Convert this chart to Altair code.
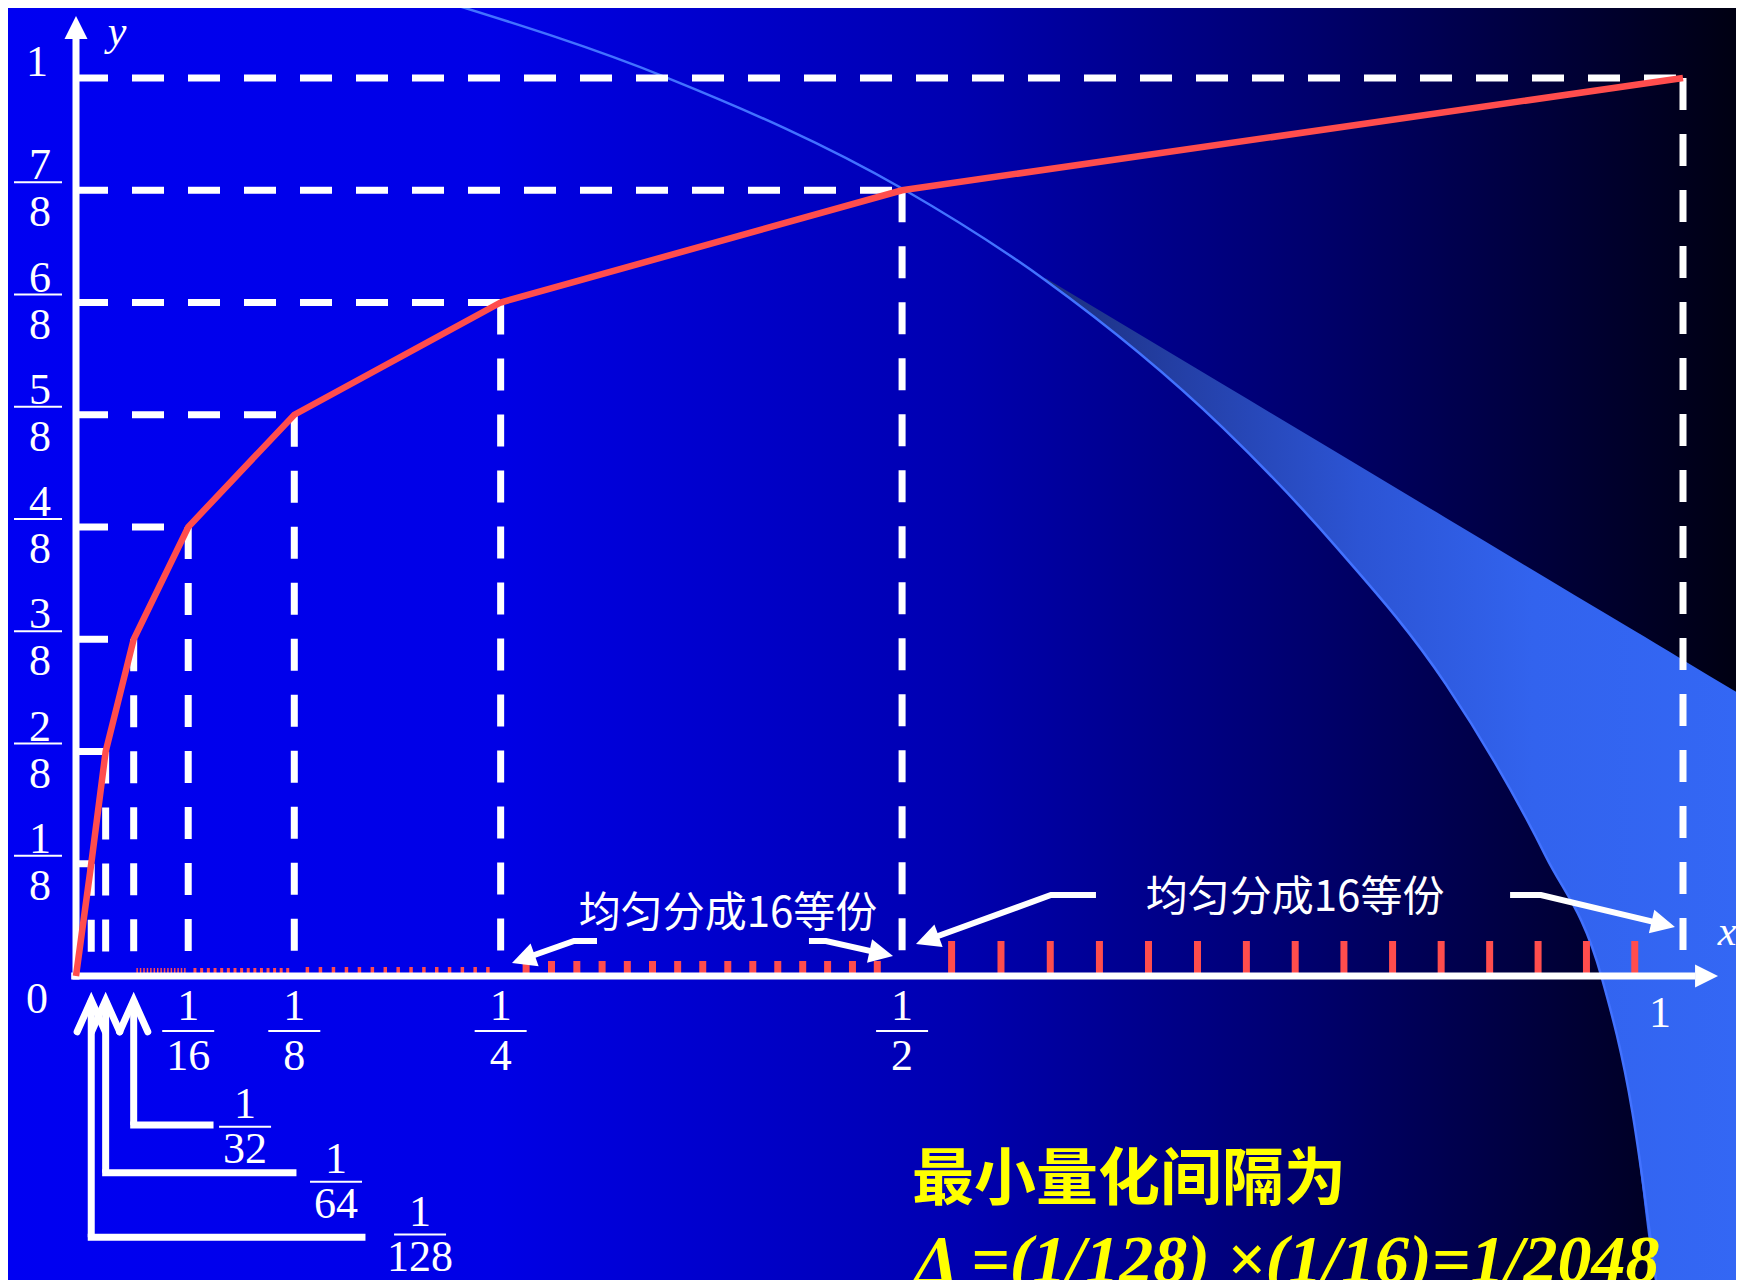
import math
import altair as alt
import pandas as pd

# ------------------------------------------------------------------
# values (A-law 13-segment compression curve)
# ------------------------------------------------------------------
break_x = [0, 1/128, 1/64, 1/32, 1/16, 1/8, 1/4, 1/2, 1]
break_y = [0, 1/8, 2/8, 3/8, 4/8, 5/8, 6/8, 7/8, 1]

x_frac_value = [1/16, 1/8, 1/4, 1/2]
x_frac_num = ["1", "1", "1", "1"]
x_frac_den = ["16", "8", "4", "2"]

y_frac_value = [1/8, 2/8, 3/8, 4/8, 5/8, 6/8, 7/8]
y_frac_num = ["1", "2", "3", "4", "5", "6", "7"]
y_frac_den = ["8", "8", "8", "8", "8", "8", "8"]

small_value = [1/32, 1/64, 1/128]
small_num = ["1", "1", "1"]
small_den = ["32", "64", "128"]

division_start = [1/32, 1/16, 1/8, 1/4, 1/2]
division_end = [1/16, 1/8, 1/4, 1/2, 1]
division_parts = 16

note_label = "均匀分成16等份"
result_label = "最小量化间隔为"
formula_label = "Δ =(1/128) ×(1/16)=1/2048"

# annotation geometry, in axis units (x as fraction of axis length)
callout_tip_y = -0.027
callout_level_y = [-0.166, -0.219, -0.291]
callout_end_x = [0.0752, 0.1242, 0.1656]
callout_label_t = [0.1052, 0.1618, 0.2141]
callout_label_y = [-0.168, -0.229, -0.288]

note_t = [0.4057, 0.7586]
note_y = [0.0690, 0.0869]

arrow_path_t = [[0.3242, 0.3099, 0.2782], [0.4561, 0.4667, 0.5009],
                [0.6347, 0.6067, 0.5296], [0.8924, 0.9116, 0.9876]]
arrow_path_y = [[0.0390, 0.0390, 0.0189], [0.0390, 0.0390, 0.0252],
                [0.0902, 0.0902, 0.0401], [0.0902, 0.0902, 0.0577]]
arrow_tip_t = [0.2713, 0.5084, 0.5227, 0.9950]
arrow_tip_y = [0.0145, 0.0223, 0.0356, 0.0546]

# background decoration (slide template arc and light wedge)
arc_t = [0.2260, 0.3679, 0.5146, 0.6032, 0.7139, 0.7831, 0.8523,
         0.9146, 0.9492, 0.9685, 0.9838]
arc_y = [1.0869, 1.0002, 0.8764, 0.7748, 0.6101, 0.4801, 0.3253,
         0.1334, -0.0003, -0.1514, -0.3471]
wedge_edge_t = [0.6033, 1.0380]
wedge_edge_y = [0.7773, 0.3112]

# ------------------------------------------------------------------
# layout / style
# ------------------------------------------------------------------
W, H = 1728, 1272
X0, X1 = 68, 1675
Y0, Y1 = 968, 70
PX_X = X1 - X0
PX_Y = Y0 - Y1
SERIF = "Liberation Serif"
CJK = "Noto Sans CJK SC"
RED = "#FF4D4D"
YELLOW = "#FFFF00"

XP = alt.Scale(type="pow", exponent=0.96, domain=[0, 1], range=[X0, X1], nice=False, zero=False)
XL = alt.Scale(type="linear", domain=[0, 1], range=[X0, X1], nice=False, zero=False)
YS = alt.Scale(type="linear", domain=[0, 1], range=[Y0, Y1], nice=False, zero=False)


def ex(f, s=XP):
    return alt.X(f, type="quantitative", scale=s, axis=None)


def ey(f):
    return alt.Y(f, type="quantitative", scale=YS, axis=None)


def grad(stops):
    return alt.LinearGradient(gradient="linear", x1=0, y1=0, x2=1, y2=0,
                              stops=[alt.GradientStop(offset=o, color=c) for o, c in stops])


ARROW_HEAD = "M0,0 L-1,2 L1,2 Z"
CHEVRON = "M-0.85,1.9 L0,0 L0.85,1.9"

layers = []

# background
one = pd.DataFrame({"k": [0]})
layers.append(
    alt.Chart(one).mark_rect(fill=grad([(0, "#0000F2"), (0.28, "#0000E6"), (0.55, "#0000B0"),
                                        (0.75, "#00006E"), (1, "#000012")]))
    .encode(x=alt.value(0), x2=alt.value(W), y=alt.value(0), y2=alt.value(H))
)

# wedge
wt = arc_t[3:] + [1.0, 1.07]
wl = arc_y[3:] + [-0.40, -0.40]
slope = (wedge_edge_y[1] - wedge_edge_y[0]) / (wedge_edge_t[1] - wedge_edge_t[0])
wh = [min(wedge_edge_y[0] + slope * (t - wedge_edge_t[0]), 2) for t in wt]
wedge_df = pd.DataFrame({"t": wt, "low": wl, "high": wh})
layers.append(
    alt.Chart(wedge_df).mark_area(
        fill=grad([(0, "#1C2F7E"), (0.19, "#2440A8"), (0.42, "#2C54D4"), (0.65, "#3263EE"), (1, "#3468F6")]),
        interpolate="monotone")
    .encode(x=ex("t", XL), y=ey("low"), y2=alt.Y2("high"))
)
arc_df = pd.DataFrame({"t": arc_t, "y": arc_y})
layers.append(
    alt.Chart(arc_df).mark_line(color="#4272FF", strokeWidth=2.5, interpolate="monotone")
    .encode(x=ex("t", XL), y=ey("y"))
)

# dashed guides
brk_df = pd.DataFrame({"x": break_x[1:], "y": break_y[1:], "zero": 0.0})
layers.append(
    alt.Chart(brk_df).mark_rule(color="white", strokeWidth=7, strokeDash=[32, 24])
    .encode(x=ex("zero"), x2=alt.X2("x"), y=ey("y"))
)
layers.append(
    alt.Chart(brk_df).mark_rule(color="white", strokeWidth=7, strokeDash=[32, 24])
    .encode(x=ex("x"), y=ey("y"), y2=alt.Y2("zero"))
)

# red division ticks (each segment evenly divided into 16 parts)
tick_style = [(1.5, 8), (3, 8), (3.5, 9), (7, 15), (7, 35)]
for s, e, (w, h) in zip(division_start, division_end, tick_style):
    df = pd.DataFrame({"start": s, "end": e, "k": list(range(1, division_parts))})
    layers.append(
        alt.Chart(df).transform_calculate(
            xt=f"datum.start + datum.k * (datum.end - datum.start) / {division_parts}",
            y0="0", y1=str(h / PX_Y))
        .mark_rule(color=RED, strokeWidth=w)
        .encode(x=ex("xt"), y=ey("y0"), y2=alt.Y2("y1"))
    )

# axes
axes_df = pd.DataFrame({"t0": [-0.003, 0.0], "t1": [1.0075, 0.0], "y0": [0.0, -0.004], "y1": [0.0, 1.0434]})
layers.append(
    alt.Chart(axes_df).mark_rule(color="white", strokeWidth=7)
    .encode(x=ex("t0", XL), x2=alt.X2("t1"), y=ey("y0"), y2=alt.Y2("y1"))
)
heads_df = pd.DataFrame({"t": [1.0218, 0.0], "y": [0.0, 1.069], "angle": [90, 0]})
layers.append(
    alt.Chart(heads_df).mark_point(shape=ARROW_HEAD, filled=True, color="white", opacity=1,
                                   strokeWidth=0, size=529)
    .encode(x=ex("t", XL), y=ey("y"), angle=alt.Angle("angle:Q", scale=None))
)

# the compression curve
curve_df = pd.DataFrame({"x": break_x, "y": break_y})
layers.append(
    alt.Chart(curve_df).mark_line(color=RED, strokeWidth=6.5)
    .encode(x=ex("x"), y=ey("y"))
)

# x fraction labels
xl_df = pd.DataFrame({"v": x_frac_value, "num": x_frac_num, "den": x_frac_den, "zero": 0.0})
layers.append(alt.Chart(xl_df).mark_text(font=SERIF, fontSize=44, color="white", dy=31)
              .encode(x=ex("v"), y=ey("zero"), text="num:N"))
layers.append(alt.Chart(xl_df).mark_rule(color="white", strokeWidth=2, xOffset=-26, x2Offset=26, yOffset=55)
              .encode(x=ex("v"), x2=alt.X2("v"), y=ey("zero")))
layers.append(alt.Chart(xl_df).mark_text(font=SERIF, fontSize=44, color="white", dy=81)
              .encode(x=ex("v"), y=ey("zero"), text="den:N"))

# y fraction labels
yl_df = pd.DataFrame({"v": y_frac_value, "num": y_frac_num, "den": y_frac_den, "zero": 0.0})
layers.append(alt.Chart(yl_df).mark_text(font=SERIF, fontSize=44, color="white", dx=-36, dy=-24)
              .encode(x=ex("zero"), y=ey("v"), text="num:N"))
layers.append(alt.Chart(yl_df).mark_rule(color="white", strokeWidth=2, xOffset=-62, x2Offset=-14, yOffset=-8)
              .encode(x=ex("zero"), x2=alt.X2("zero"), y=ey("v")))
layers.append(alt.Chart(yl_df).mark_text(font=SERIF, fontSize=44, color="white", dx=-36, dy=23)
              .encode(x=ex("zero"), y=ey("v"), text="den:N"))

# single labels
layers.append(alt.Chart(pd.DataFrame({"x": [0.0], "y": [1.0], "s": ["1"]}))
              .mark_text(font=SERIF, fontSize=44, color="white", dx=-39, dy=-15)
              .encode(x=ex("x"), y=ey("y"), text="s:N"))
layers.append(alt.Chart(pd.DataFrame({"x": [0.0], "y": [0.0], "s": ["0"]}))
              .mark_text(font=SERIF, fontSize=44, color="white", dx=-39, dy=24)
              .encode(x=ex("x"), y=ey("y"), text="s:N"))
layers.append(alt.Chart(pd.DataFrame({"x": [1.0], "y": [0.0], "s": ["1"]}))
              .mark_text(font=SERIF, fontSize=44, color="white", dx=-23, dy=38)
              .encode(x=ex("x"), y=ey("y"), text="s:N"))
layers.append(alt.Chart(pd.DataFrame({"t": [0.0255, 1.0274], "y": [1.051, 0.049], "s": ["y", "x"]}))
              .mark_text(font=SERIF, fontSize=42, fontStyle="italic", color="white")
              .encode(x=ex("t", XL), y=ey("y"), text="s:N"))

# callouts for 1/32, 1/64, 1/128
co_df = pd.DataFrame({"v": small_value, "tip": callout_tip_y, "level": callout_level_y, "end": callout_end_x})
layers.append(alt.Chart(co_df).mark_rule(color="white", strokeWidth=7)
              .encode(x=ex("v"), y=ey("tip"), y2=alt.Y2("level")))
layers.append(alt.Chart(co_df).mark_rule(color="white", strokeWidth=7, strokeCap="square")
              .encode(x=ex("v"), x2=alt.X2("end"), y=ey("level")))
layers.append(alt.Chart(co_df).mark_point(shape=CHEVRON, filled=False, color="white", opacity=1,
                                          strokeWidth=7, strokeCap="round", strokeJoin="miter", size=1100)
              .encode(x=ex("v"), y=ey("tip")))
cl_df = pd.DataFrame({"t": callout_label_t, "y": callout_label_y, "num": small_num, "den": small_den})
layers.append(alt.Chart(cl_df).mark_text(font=SERIF, fontSize=44, color="white", dy=-22)
              .encode(x=ex("t", XL), y=ey("y"), text="num:N"))
layers.append(alt.Chart(cl_df).mark_rule(color="white", strokeWidth=2, xOffset=-26, x2Offset=26)
              .encode(x=ex("t", XL), x2=alt.X2("t"), y=ey("y")))
layers.append(alt.Chart(cl_df).mark_text(font=SERIF, fontSize=44, color="white", dy=23)
              .encode(x=ex("t", XL), y=ey("y"), text="den:N"))

# "evenly divided into 16 parts" notes with arrows
note_df = pd.DataFrame({"t": note_t, "y": note_y, "s": [note_label, note_label]})
layers.append(alt.Chart(note_df).mark_text(font=CJK, fontSize=42, color="white")
              .encode(x=ex("t", XL), y=ey("y"), text="s:N"))

rows = []
for i, (ts, ys) in enumerate(zip(arrow_path_t, arrow_path_y)):
    for j, (t, y) in enumerate(zip(ts, ys)):
        rows.append({"id": i, "o": j, "t": t, "y": y})
arrow_df = pd.DataFrame(rows)
layers.append(alt.Chart(arrow_df).mark_line(color="white", strokeWidth=6)
              .encode(x=ex("t", XL), y=ey("y"), detail="id:N", order="o:Q"))


def screen_angle(t0, y0, t1, y1):
    dx = (t1 - t0) * PX_X
    dy = -(y1 - y0) * PX_Y
    return math.degrees(math.atan2(dx, -dy)) % 360


ang = [screen_angle(ts[-1], ys[-1], tt, ty)
       for ts, ys, tt, ty in zip(arrow_path_t, arrow_path_y, arrow_tip_t, arrow_tip_y)]
tip_df = pd.DataFrame({"t": arrow_tip_t, "y": arrow_tip_y, "angle": ang})
layers.append(alt.Chart(tip_df).mark_point(shape=ARROW_HEAD, filled=True, color="white", opacity=1,
                                           strokeWidth=0, size=576)
              .encode(x=ex("t", XL), y=ey("y"), angle=alt.Angle("angle:Q", scale=None)))

# result text
layers.append(alt.Chart(pd.DataFrame({"t": [0.6553], "y": [-0.2283], "s": [result_label]}))
              .mark_text(font=CJK, fontSize=62, fontWeight="bold", color=YELLOW)
              .encode(x=ex("t", XL), y=ey("y"), text="s:N"))
layers.append(alt.Chart(pd.DataFrame({"t": [0.5221], "y": [-0.3405], "s": [formula_label]}))
              .mark_text(font=SERIF, fontSize=68, fontStyle="italic", fontWeight="bold", color=YELLOW,
                         align="left", baseline="alphabetic")
              .encode(x=ex("t", XL), y=ey("y"), text="s:N"))

chart = (
    alt.layer(*layers)
    .resolve_scale(x="independent")
    .properties(width=W, height=H, padding=0, autosize="none")
    .configure_view(stroke=None)
)

chart.save("out.html", embed_options={"renderer": "svg", "actions": False})
